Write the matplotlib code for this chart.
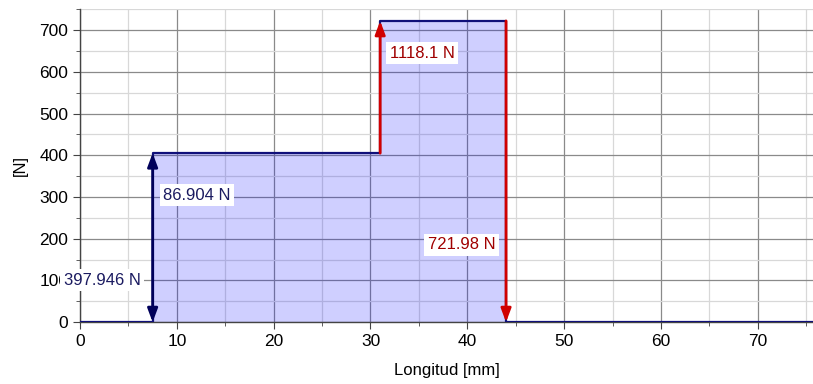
import matplotlib
matplotlib.use("Agg")
import matplotlib.pyplot as plt
from matplotlib.ticker import MultipleLocator

# Data
edges = [0, 7.5, 31, 44, 75.7]          # mm, step breakpoints
levels = [0, 405, 722, 0, 0]            # N, level starting at each edge
loads = [
    # (x position, y_from, y_to, colour, double-headed)
    (7.5, 0, 405, "#00005a", True),
    (31, 405, 722, "#d00000", False),
    (44, 722, 0, "#d00000", False),
]
labels = ["397.946 N", "86.904 N", "1118.1 N", "721.98 N"]
label_x = [-1.7, 8.6, 32.0, 42.9]
label_y = [100, 304, 645, 185]
label_ha = ["left", "left", "left", "right"]
label_colors = ["#1a1a60", "#1a1a60", "#a00000", "#a00000"]

plt.rcParams['font.family'] = ['Liberation Sans', 'DejaVu Sans']

fig = plt.figure(figsize=(8.13, 3.84), dpi=100)
ax = fig.add_axes([0.0984, 0.161, 0.9016, 0.815])

ax.set_xlim(0, 75.7)
ax.set_ylim(0, 750)

ax.xaxis.set_major_locator(MultipleLocator(10))
ax.xaxis.set_minor_locator(MultipleLocator(5))
ax.yaxis.set_major_locator(MultipleLocator(100))
ax.yaxis.set_minor_locator(MultipleLocator(50))
ax.set_yticks(range(0, 701, 100))

ax.grid(which='major', color='#8a8a8a', lw=0.9)
ax.grid(which='minor', color='#d8d8d8', lw=0.9)
ax.set_axisbelow(True)

ax.fill_between(edges, levels, step='post', color='#0000ff', alpha=0.19, lw=0)
ax.step(edges, levels, where='post', color='#10107a', lw=1.6, zorder=3)

for x, y0, y1, col, dbl in loads:
    style = '<|-|>' if dbl else '-|>'
    ax.annotate('', xy=(x, y1), xytext=(x, y0),
                arrowprops=dict(arrowstyle=style + ',head_length=0.8,head_width=0.3',
                                color=col, lw=2.0, shrinkA=0, shrinkB=0),
                zorder=4)

for lab, x, y, ha, c in zip(labels, label_x, label_y, label_ha, label_colors):
    ax.text(x, y, lab, ha=ha, va='center', fontsize=12, color=c,
            bbox=dict(facecolor='white', edgecolor='none', pad=2.5),
            zorder=5, clip_on=False)

for s in ['top', 'right']:
    ax.spines[s].set_visible(False)
for s in ['left', 'bottom']:
    ax.spines[s].set_color('#444444')
    ax.spines[s].set_linewidth(1.0)

ax.tick_params(which='major', length=5, color='#444444', labelsize=12.5, direction='out')
ax.tick_params(which='minor', length=3, color='#444444', direction='out')

ax.set_xlabel('Longitud [mm]', fontsize=12, labelpad=10)
ax.set_ylabel('[N]', fontsize=12, labelpad=8)

fig.savefig('out.png', dpi=100)
